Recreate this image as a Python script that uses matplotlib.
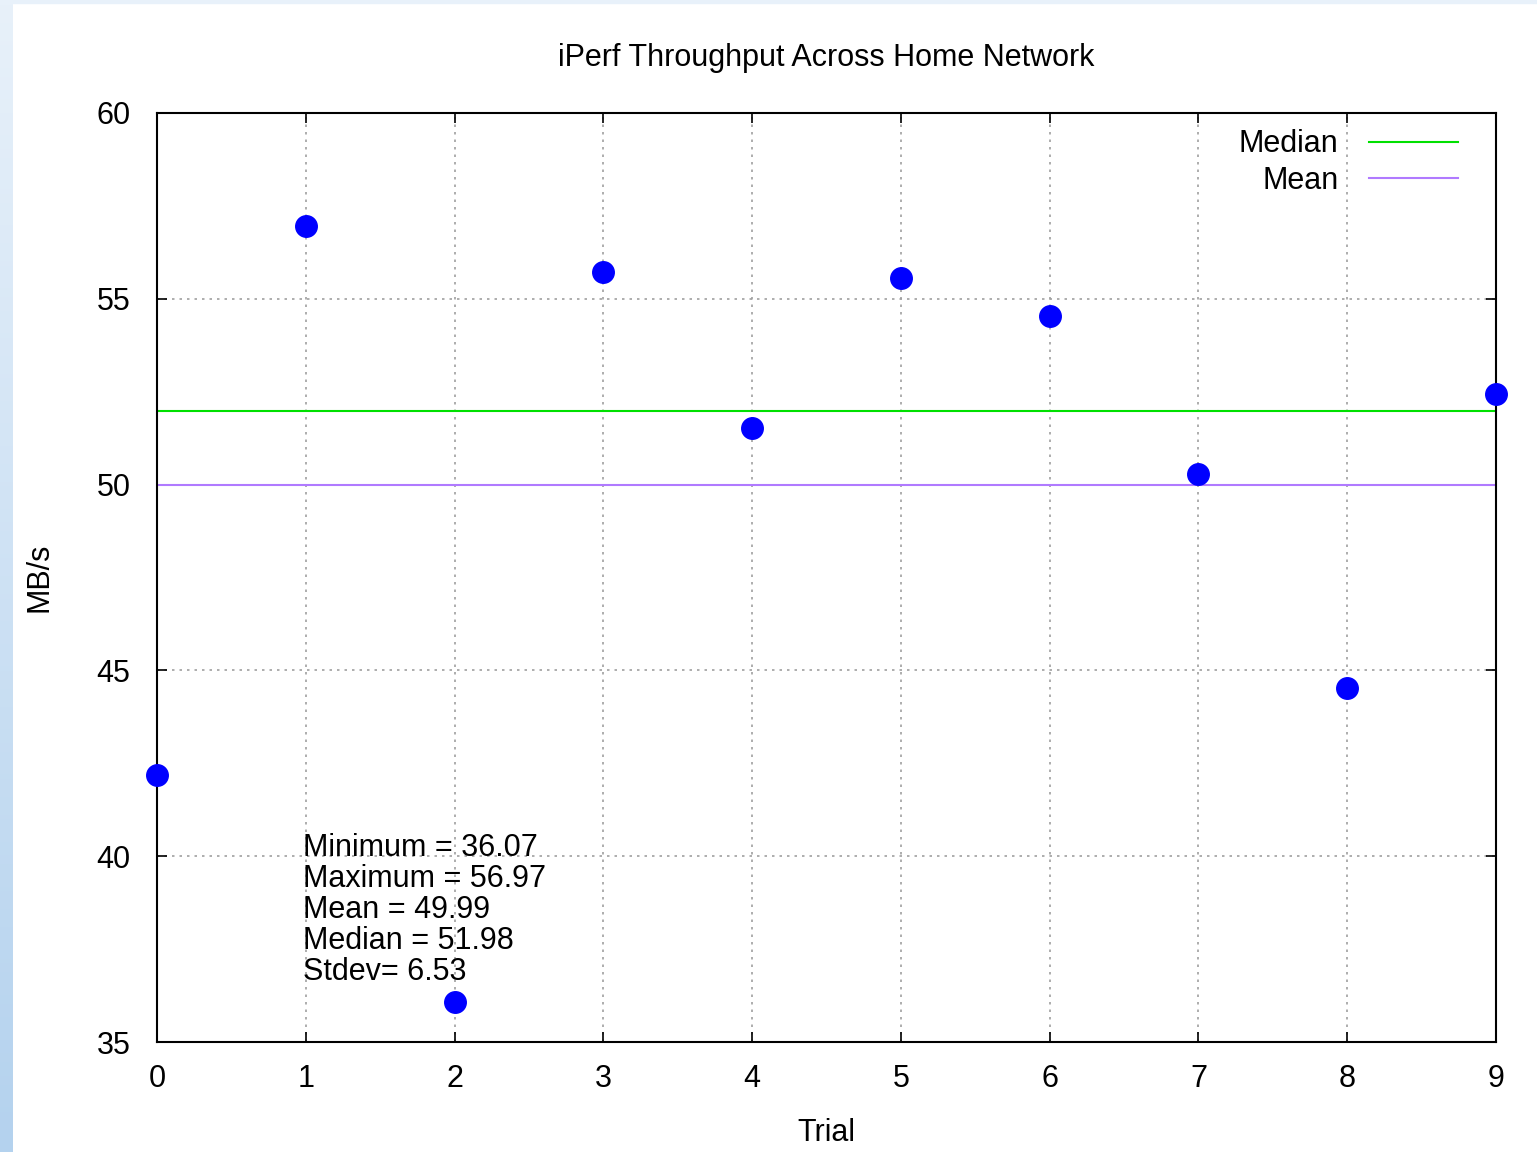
# iPerf throughput scatter, gnuplot look

import numpy as np
from matplotlib import pyplot as plt

plt.rcParams['font.family'] = ['Liberation Sans', 'DejaVu Sans']

# data
trials = [0, 1, 2, 3, 4, 5, 6, 7, 8, 9]
throughput = [42.19, 56.97, 36.07, 55.72, 51.52, 55.56, 54.54, 50.29, 44.53, 52.44]
median_val = 51.98
mean_val = 49.99
stats_lines = ['Minimum = 36.07', 'Maximum = 56.97', 'Mean = 49.99',
               'Median = 51.98', 'Stdev= 6.53']
x_ticks = [0, 1, 2, 3, 4, 5, 6, 7, 8, 9]
y_ticks = [35, 40, 45, 50, 55, 60]

fs = 22

fig = plt.figure(figsize=(15.37, 11.52), dpi=100, facecolor='w')

# window border gradient on the left and top
bg = fig.add_axes([0, 0, 1, 1], zorder=-10)
bg.set_axis_off()
grad = np.linspace(0, 1, 256).reshape(-1, 1)
bg.imshow(grad, extent=[0, 13 / 1537, 0, 1], aspect='auto',
          cmap=plt.matplotlib.colors.LinearSegmentedColormap.from_list(
              'b', ['#b4d2ee', '#e8f1fa']), origin='lower')
bg.axhspan(1 - 3 / 1152, 1, color='#e8f1fa')
bg.set_xlim(0, 1)
bg.set_ylim(0, 1)

ax = fig.add_axes([157 / 1537, 1 - 1042 / 1152, (1496 - 157) / 1537, (1042 - 113) / 1152])
ax.axhline(median_val, color='#00e000', lw=1.5, label='Median', zorder=2)
ax.axhline(mean_val, color='#b07aff', lw=1.5, label='Mean', zorder=2)
ax.plot(trials, throughput, 'o', color='#0000ff', ms=15.5, clip_on=False, zorder=3)

ax.set_xlim(0, 9)
ax.set_ylim(35, 60)
ax.set_xticks(x_ticks)
ax.set_yticks(y_ticks)
ax.grid(True, color='#a0a0a0', linestyle=(0, (1.5, 3)), lw=1.2)
ax.tick_params(direction='in', length=7, width=1.2, top=True, right=True,
               labelsize=fs, colors='black')
ax.tick_params(axis='y', pad=19)
ax.tick_params(axis='x', pad=16)
for sp in ax.spines.values():
    sp.set_linewidth(1.5)

ax.set_title('iPerf Throughput Across Home Network', fontsize=fs, pad=34)
ax.set_xlabel('Trial', fontsize=fs, labelpad=17)
ax.set_ylabel('MB/s', fontsize=fs, labelpad=30)

for i, line in enumerate(stats_lines):
    ax.annotate(line, xy=(1, 40), xytext=(-2, -i * 22.3), textcoords='offset points',
                fontsize=fs, ha='left', va='baseline')

ax.legend(loc='upper right', frameon=False, markerfirst=False, fontsize=fs,
          handlelength=2.9, handletextpad=1.0, labelspacing=0.22,
          borderaxespad=0.3, bbox_to_anchor=(1 - 17 / 1339, 1 + 5 / 929))

plt.savefig('out.png', dpi=100, facecolor='w')
